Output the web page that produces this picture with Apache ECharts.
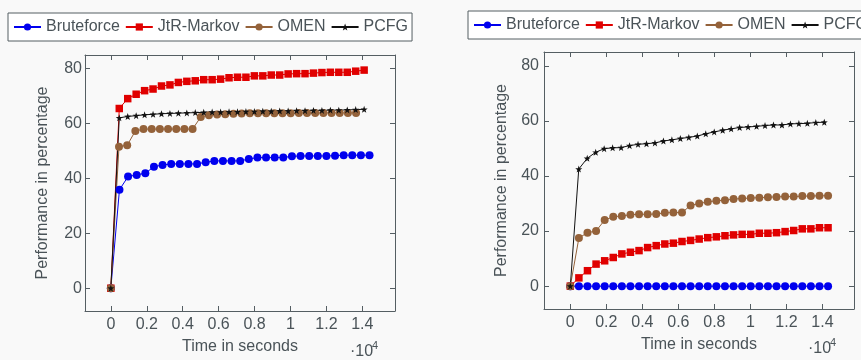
<!DOCTYPE html>
<html>
<head>
<meta charset="utf-8">
<script src="https://cdn.jsdelivr.net/npm/echarts@6/dist/echarts.min.js"></script>
<style>
  html, body { margin: 0; padding: 0; background: #f9f9f9; }
  #chart { width: 861px; height: 360px; }
</style>
</head>
<body>
<div id="chart"></div>
<script>
// series names and tick labels
const seriesNames = ['Bruteforce', 'JtR-Markov', 'OMEN', 'PCFG']
const xTicks = [0, 2000, 4000, 6000, 8000, 10000, 12000, 14000]
const xTickLabels = ['0', '0.2', '0.4', '0.6', '0.8', '1', '1.2', '1.4']
const yTicks = [0, 20, 40, 60, 80]

// sample times (seconds)
const times480 = [0, 480, 960, 1440, 1920, 2400, 2880, 3360, 3840, 4320, 4800, 5280, 5760, 6240, 6720, 7200, 7680, 8160, 8640, 9120, 9600, 10080, 10560, 11040, 11520, 12000, 12480, 12960, 13440, 13920, 14400]
const times470 = [0, 470, 940, 1410, 1880, 2350, 2820, 3290, 3760, 4230, 4700, 5170, 5640, 6110, 6580, 7050, 7520, 7990, 8460, 8930, 9400, 9870, 10340, 10810, 11280, 11750, 12220, 12690, 13160, 13630, 14100]
const times455 = [0, 455, 910, 1365, 1820, 2275, 2730, 3185, 3640, 4095, 4550, 5005, 5460, 5915, 6370, 6825, 7280, 7735, 8190, 8645, 9100, 9555, 10010, 10465, 10920, 11375, 11830, 12285, 12740, 13195, 13650]
const times477 = [0, 477, 954, 1431, 1908, 2385, 2862, 3339, 3816, 4293, 4770, 5247, 5724, 6201, 6678, 7155, 7632, 8109, 8586, 9063, 9540, 10017, 10494, 10971, 11448, 11925, 12402, 12879, 13356, 13833, 14310]

// left chart values (%)
const leftBrute = [0, 35.9, 40.7, 41.3, 41.9, 44.3, 44.9, 45.3, 45.3, 45.3, 45.3, 45.9, 46.4, 46.4, 46.4, 46.4, 47.1, 47.6, 47.6, 47.6, 47.6, 48.1, 48.2, 48.2, 48.2, 48.2, 48.3, 48.5, 48.5, 48.5, 48.5]
const leftMarkov = [0, 65.5, 69.1, 70.7, 72.0, 72.6, 73.7, 74.1, 75.0, 75.4, 75.6, 76.0, 76.0, 76.2, 76.7, 76.9, 76.9, 77.4, 77.4, 77.7, 77.7, 78.1, 78.2, 78.2, 78.4, 78.6, 78.7, 78.7, 78.7, 79.1, 79.5]
const leftOmen = [0, 51.6, 52.1, 57.3, 58.0, 58.0, 58.0, 58.0, 58.0, 58.0, 58.0, 62.4, 63.0, 63.3, 63.4, 63.6, 63.7, 63.8, 63.8, 63.8, 63.8, 63.8, 63.8, 63.9, 63.9, 63.9, 63.9, 63.9, 63.9, 63.9, 63.9]
const leftPcfg = [0, 62.1, 62.6, 62.9, 63.2, 63.4, 63.6, 63.7, 63.8, 63.9, 64.0, 64.1, 64.2, 64.2, 64.3, 64.3, 64.4, 64.4, 64.5, 64.5, 64.6, 64.6, 64.7, 64.7, 64.8, 64.8, 64.9, 64.9, 65.0, 65.1, 65.2]

// right chart values (%)
const rightBrute = [0, 0, 0, 0, 0, 0, 0, 0, 0, 0, 0, 0, 0, 0, 0, 0, 0, 0, 0, 0, 0, 0, 0, 0, 0, 0, 0, 0, 0, 0, 0]
const rightMarkov = [0, 3.0, 5.6, 8.0, 9.2, 10.4, 11.7, 12.3, 12.9, 14.0, 14.7, 15.3, 15.6, 16.2, 16.6, 17.1, 17.6, 17.9, 18.3, 18.6, 18.8, 18.8, 19.2, 19.2, 19.4, 19.8, 20.2, 20.8, 20.8, 21.2, 21.2]
const rightOmen = [0, 17.5, 19.4, 20.0, 24.0, 25.2, 25.5, 25.9, 26.1, 26.1, 26.2, 26.6, 26.7, 26.7, 29.3, 30.0, 30.6, 31.0, 31.2, 31.6, 31.8, 32.0, 32.1, 32.3, 32.4, 32.5, 32.5, 32.7, 32.7, 32.8, 32.8]
const rightPcfg = [0, 42.5, 46.4, 48.6, 49.9, 50.2, 50.3, 51.0, 51.5, 51.7, 52.0, 52.7, 53.1, 53.6, 54.0, 54.5, 55.3, 56.0, 56.6, 57.1, 57.6, 57.8, 58.0, 58.3, 58.5, 58.5, 58.9, 59.0, 59.1, 59.4, 59.5]

const textColor = '#4a5358'
const axisColor = '#555e63'
const font = 'Liberation Sans, Arial, sans-serif'
const star = 'path://M0,-10 L2.35,-3.24 L9.51,-3.09 L3.8,1.24 L5.88,8.09 L0,4 L-5.88,8.09 L-3.8,1.24 L-9.51,-3.09 L-2.35,-3.24 Z'

const styles = [
  { color: '#0000ee', symbol: 'circle', size: 8 },
  { color: '#e00000', symbol: 'rect', size: 7.5 },
  { color: '#94623a', symbol: 'circle', size: 8 },
  { color: '#111111', symbol: star, size: 7 },
]

const zip = (xs, ys) => ys.map((y, i) => [xs[i], y])

const charts = [
  { grid: { left: 85, top: 55, width: 310, height: 257 }, xRange: [-1438, 15818], legendPos: { left: 8, top: 13 },
    data: [zip(times480, leftBrute), zip(times470, leftMarkov), zip(times455, leftOmen), zip(times470, leftPcfg)],
    labelMargin: 3, power: { x: 350, y: 352 } },
  { grid: { left: 544, top: 52, width: 310, height: 257 }, xRange: [-1460, 15750], legendPos: { left: 468, top: 11 },
    data: [zip(times477, rightBrute), zip(times477, rightMarkov), zip(times477, rightOmen), zip(times470, rightPcfg)],
    labelMargin: 5, power: { x: 808, y: 349 } },
]

const el = document.getElementById('chart')
const chart = echarts.init(el, null, { renderer: 'canvas' })

const grids = [], xAxes = [], yAxes = [], series = [], legends = [], graphics = []

charts.forEach((c, ci) => {
  grids.push(c.grid)
  const tickStyle = { show: true, inside: true, length: 5, lineStyle: { color: axisColor, width: 1 } }
  const lineStyle = { show: true, onZero: false, lineStyle: { color: axisColor, width: 1 } }
  xAxes.push({
    type: 'value', gridIndex: ci, position: 'bottom', min: c.xRange[0], max: c.xRange[1],
    name: 'Time in seconds', nameLocation: 'middle', nameGap: 28,
    nameTextStyle: { color: textColor, fontSize: 16, fontFamily: font },
    axisLine: lineStyle, splitLine: { show: false },
    axisTick: { ...tickStyle, customValues: xTicks },
    axisLabel: { customValues: xTicks, color: textColor, fontSize: 16, fontFamily: font, margin: 6,
      formatter: (v) => xTickLabels[xTicks.indexOf(v)] },
  })
  xAxes.push({
    type: 'value', gridIndex: ci, position: 'top', min: c.xRange[0], max: c.xRange[1],
    axisLine: lineStyle, splitLine: { show: false },
    axisTick: { ...tickStyle, customValues: xTicks }, axisLabel: { show: false },
  })
  yAxes.push({
    type: 'value', gridIndex: ci, position: 'left', min: -8.3, max: 85,
    name: 'Performance in percentage', nameLocation: 'middle', nameGap: 34,
    nameTextStyle: { color: textColor, fontSize: 16, fontFamily: font },
    axisLine: lineStyle, splitLine: { show: false },
    axisTick: { ...tickStyle, customValues: yTicks },
    axisLabel: { customValues: yTicks, color: textColor, fontSize: 16, fontFamily: font, margin: c.labelMargin },
  })
  yAxes.push({
    type: 'value', gridIndex: ci, position: 'right', min: -8.3, max: 85,
    axisLine: lineStyle, splitLine: { show: false },
    axisTick: { ...tickStyle, customValues: yTicks }, axisLabel: { show: false },
  })
  c.data.forEach((d, si) => {
    const s = styles[si]
    series.push({
      type: 'line', name: seriesNames[si], data: d,
      xAxisIndex: ci * 2, yAxisIndex: ci * 2,
      symbol: s.symbol, symbolSize: s.size, showSymbol: true,
      lineStyle: { color: s.color, width: 1 },
      itemStyle: { color: s.color },
      animation: false,
    })
  })
  legends.push({
    data: seriesNames, ...c.legendPos, width: 420, orient: 'horizontal',
    itemWidth: 27, itemHeight: 9, itemGap: 5,
    padding: [6, 4, 6, 5], borderColor: axisColor, borderWidth: 1, backgroundColor: '#ffffff',
    textStyle: { color: textColor, fontSize: 16, fontFamily: font },
    selectedMode: false,
  })
  graphics.push({ type: 'text', left: c.power.x, top: c.power.y - 8,
    style: { text: '\u00b710', fill: textColor, fontSize: 16, fontFamily: font } })
  graphics.push({ type: 'text', left: c.power.x + 22, top: c.power.y - 12,
    style: { text: '4', fill: textColor, fontSize: 11, fontFamily: font } })
})

chart.setOption({
  backgroundColor: '#f9f9f9',
  animation: false,
  grid: grids,
  xAxis: xAxes,
  yAxis: yAxes,
  legend: legends,
  series,
  graphic: graphics,
})
</script>
</body>
</html>
